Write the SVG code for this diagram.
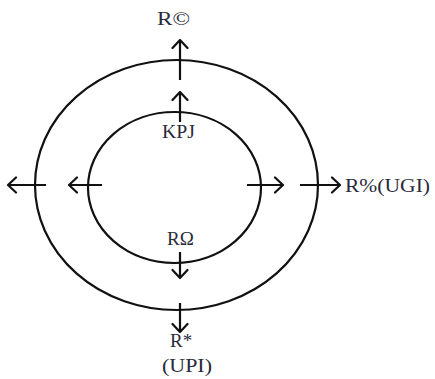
<svg xmlns="http://www.w3.org/2000/svg" width="435" height="379" viewBox="0 0 435 379">
<defs>
<marker id="ah" markerUnits="userSpaceOnUse" markerWidth="12" markerHeight="18" viewBox="0 0 12 18" refX="10" refY="9" orient="auto">
<path d="M2,1.5 L10,9 L2,16.5" fill="none" stroke="#111" stroke-width="2.2" stroke-linecap="round" stroke-linejoin="round"/>
</marker>
</defs>
<style>
.ring{fill:none;stroke:#111;stroke-width:2.2}
.ar{stroke:#111;stroke-width:2.2;fill:none;marker-end:url(#ah)}
.lb{font-family:"Liberation Serif",serif;font-size:19px;fill:#2a2a3a}
</style>
<rect width="435" height="379" fill="#fff"/>
<g id="outer"><ellipse class="ring" cx="176.5" cy="185" rx="141.5" ry="125"/></g>
<g id="inner"><ellipse class="ring" cx="174.5" cy="187.5" rx="86.5" ry="75.5"/></g>
<g id="connectors">
<line class="ar" x1="180" y1="80" x2="180" y2="40"/>
<line class="ar" x1="180" y1="122" x2="180" y2="92"/>
<line class="ar" x1="46" y1="185" x2="8" y2="185"/>
<line class="ar" x1="102" y1="185" x2="69" y2="185"/>
<line class="ar" x1="247" y1="185" x2="283" y2="185"/>
<line class="ar" x1="300" y1="185" x2="340" y2="185"/>
<line class="ar" x1="180" y1="252" x2="180" y2="278"/>
<line class="ar" x1="180" y1="303" x2="180" y2="332"/>
</g>
<g id="labels">
<text class="lb" x="157" y="25" textLength="33" lengthAdjust="spacingAndGlyphs">R©</text>
<text class="lb" x="162" y="138" textLength="33" lengthAdjust="spacingAndGlyphs">KPJ</text>
<text class="lb" x="167" y="245">RΩ</text>
<text class="lb" x="345" y="192" textLength="85" lengthAdjust="spacingAndGlyphs">R%(UGI)</text>
<text class="lb" x="170" y="347">R*</text>
<text class="lb" x="162" y="372" textLength="50" lengthAdjust="spacingAndGlyphs">(UPI)</text>
</g>
</svg>
